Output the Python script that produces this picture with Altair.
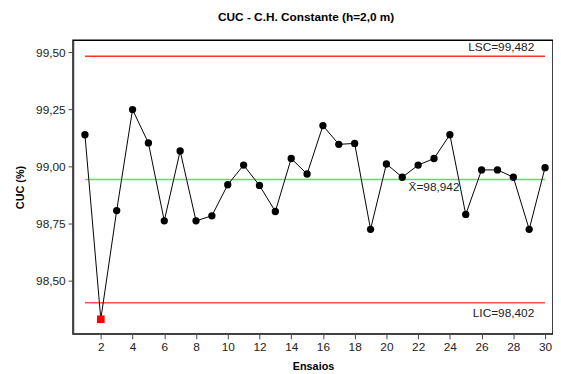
import altair as alt
import pandas as pd

ensaios = list(range(1, 31))
cuc = [99.138, 98.330, 98.806, 99.248, 99.102, 98.761, 99.067, 98.761, 98.783, 98.919,
       99.005, 98.916, 98.802, 99.034, 98.966, 99.178, 99.096, 99.100, 98.724, 99.010,
       98.952, 99.005, 99.034, 99.138, 98.789, 98.984, 98.984, 98.952, 98.724, 98.994]
lsc = 99.482
media = 98.942
lic = 98.402
y_ticks = [98.50, 98.75, 99.00, 99.25, 99.50]
x_ticks = list(range(2, 31, 2))

df = pd.DataFrame({"Ensaio": ensaios, "CUC": cuc})
df["fora"] = (df["CUC"] < lic) | (df["CUC"] > lsc)

FONT = "Liberation Sans"

xs = alt.Scale(domain=[0.25, 30.5], nice=False, zero=False)
ys = alt.Scale(domain=[98.266, 99.552], nice=False, zero=False)

x_axis = alt.Axis(values=x_ticks, grid=False, tickSize=5, labelFontSize=12,
                  labelFont=FONT, titleFont=FONT, titleFontSize=11,
                  titleFontWeight="bold", domainColor="#444", domainWidth=1.5,
                  tickColor="#444", labelColor="#222", titlePadding=8,
                  labelPadding=3, labelOverlap=False)
y_axis = alt.Axis(values=y_ticks, grid=False, tickSize=5, labelFontSize=12,
                  labelFont=FONT, titleFont=FONT, titleFontSize=11,
                  titleFontWeight="bold", domainColor="#444", domainWidth=1.5,
                  tickColor="#444", labelColor="#222", titlePadding=10,
                  labelPadding=3, labelOverlap=False,
                  labelExpr="replace(format(datum.value, '.2f'), '.', ',')")


def X(field):
    return alt.X(field, scale=xs, title="Ensaios", axis=x_axis)


def Y(field):
    return alt.Y(field, scale=ys, title="CUC (%)", axis=y_axis)


limits = pd.DataFrame({
    "nome": ["LSC", "media", "LIC"],
    "valor": [lsc, media, lic],
    "x0": [1, 1, 1],
    "x1": [30, 30, 30],
})

rules = alt.Chart(limits).mark_rule(strokeWidth=1.5).encode(
    x=X("x0:Q"),
    x2="x1:Q",
    y=Y("valor:Q"),
    color=alt.Color("nome:N", scale=alt.Scale(domain=["LSC", "media", "LIC"],
                                               range=["#ff3030", "#44f044", "#ff5050"]),
                    legend=None),
)

line = alt.Chart(df).mark_line(color="black", strokeWidth=1).encode(x=X("Ensaio:Q"), y=Y("CUC:Q"))

pts = alt.Chart(df).transform_filter("!datum.fora").mark_point(
    filled=True, color="black", size=55, opacity=1, shape="circle").encode(
    x=X("Ensaio:Q"), y=Y("CUC:Q"))

bad = alt.Chart(df).transform_filter("datum.fora").mark_point(
    filled=True, color="#ff0000", size=60, opacity=1, shape="square").encode(
    x=X("Ensaio:Q"), y=Y("CUC:Q"))


def lbl(text, val, xpos, dy, dx, align):
    return alt.Chart(pd.DataFrame({"t": [text], "v": [val]})).transform_calculate(
        xx=str(xpos)
    ).mark_text(
        align=align, baseline="middle", dx=dx, dy=dy, fontSize=12, font=FONT, color="#222"
    ).encode(x=X("xx:Q"), y=Y("v:Q"), text="t:N")


t_lsc = lbl("LSC=99,482", lsc, 30, -9, -11, "right")
t_lic = lbl("LIC=98,402", lic, 30, 10, -11, "right")
t_med = lbl("X\u0304=98,942", media, 23.0, 8, 0, "center")

chart = alt.layer(rules, line, pts, bad, t_lsc, t_lic, t_med).properties(
    width=487, height=298,
    title=alt.TitleParams("CUC - C.H. Constante (h=2,0 m)", font=FONT, fontSize=12,
                          fontWeight="bold", anchor="middle", dx=-7, offset=16, color="black"),
    autosize=alt.AutoSizeParams(type="none"),
    padding={"left": 66, "top": 30, "right": 0, "bottom": 36},
).configure_view(stroke="black", strokeWidth=1.5)

chart.save("out.html", embed_options={"renderer": "svg", "actions": False})
